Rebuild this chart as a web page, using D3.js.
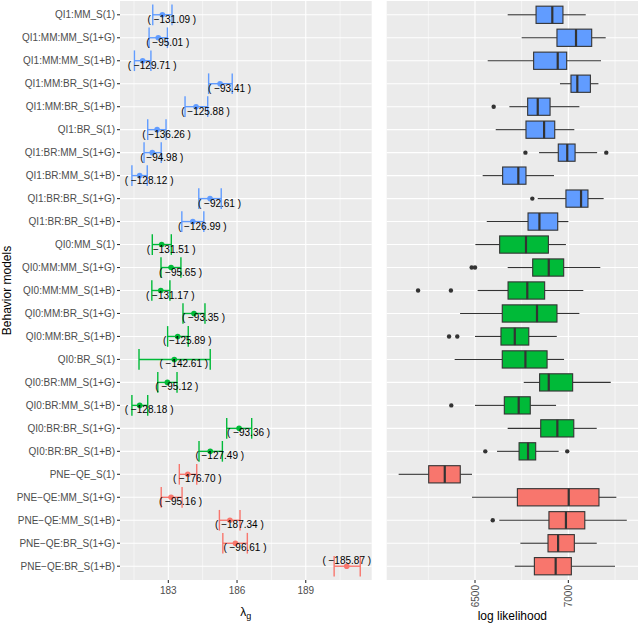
<!DOCTYPE html>
<html lang="en">
<head>
<meta charset="UTF-8">
<title>Behavior models</title>
<script src="https://d3js.org/d3.v7.min.js"></script>
<style>
  body, html { margin: 0; padding: 0; background: #fff; }
  svg text { font-family: "Liberation Sans", Arial, sans-serif; }
  .tick-label { fill: #4d4d4d; font-size: 10px; }
  .axis-title { fill: #000; font-size: 12px; }
  .val-label { fill: #000; font-size: 10px; }
</style>
</head>
<body>
<div id="chart"></div>
<script>
  // behavior models, top to bottom
  const models = [
    "QI1:MM_S(1)", "QI1:MM:MM_S(1+G)", "QI1:MM:MM_S(1+B)", "QI1:MM:BR_S(1+G)", "QI1:MM:BR_S(1+B)",
    "QI1:BR_S(1)", "QI1:BR:MM_S(1+G)", "QI1:BR:MM_S(1+B)", "QI1:BR:BR_S(1+G)", "QI1:BR:BR_S(1+B)",
    "QI0:MM_S(1)", "QI0:MM:MM_S(1+G)", "QI0:MM:MM_S(1+B)", "QI0:MM:BR_S(1+G)", "QI0:MM:BR_S(1+B)",
    "QI0:BR_S(1)", "QI0:BR:MM_S(1+G)", "QI0:BR:MM_S(1+B)", "QI0:BR:BR_S(1+G)", "QI0:BR:BR_S(1+B)",
    "PNE\u2212QE_S(1)", "PNE\u2212QE:MM_S(1+G)", "PNE\u2212QE:MM_S(1+B)", "PNE\u2212QE:BR_S(1+G)", "PNE\u2212QE:BR_S(1+B)"
  ];

  // lambda_g estimate and interval
  const lambdaEst = [182.74, 182.56, 181.88, 185.26, 184.21, 182.51, 182.30, 181.75, 184.82, 184.07,
                     182.71, 183.12, 182.67, 184.12, 183.41, 183.26, 182.96, 181.75, 186.09, 184.83,
                     183.85, 183.12, 185.69, 185.93, 190.79];
  const lambdaLo  = [182.32, 182.16, 181.52, 184.76, 183.73, 182.10, 181.94, 181.41, 184.33, 183.59,
                     182.30, 182.68, 182.28, 183.64, 182.97, 181.72, 182.54, 181.41, 185.55, 184.34,
                     183.48, 182.69, 185.23, 185.38, 190.24];
  const lambdaHi  = [183.16, 182.96, 182.24, 185.79, 184.72, 182.90, 182.69, 182.08, 185.31, 184.55,
                     183.13, 183.55, 183.07, 184.60, 183.87, 184.83, 183.38, 182.10, 186.64, 185.36,
                     184.24, 183.60, 186.13, 186.45, 191.38];
  // printed log likelihood of the fit
  const fitLL = [-131.09, -95.01, -129.71, -93.41, -125.88, -136.26, -94.98, -128.12, -92.61, -126.99,
                 -131.51, -95.65, -131.17, -93.35, -125.89, -142.61, -95.12, -128.18, -93.36, -127.49,
                 -176.70, -95.16, -187.34, -96.61, -185.87];

  // log likelihood boxplots
  const whiskLo = [6675, 6750, 6568, 6955, 6684, 6611, 6843, 6541, 6836, 6563,
                   6502, 6675, 6514, 6420, 6500, 6391, 6761, 6500, 6675, 6618,
                   6091, 6484, 6630, 6743, 6713];
  const q1      = [6827, 6939, 6814, 7014, 6782, 6773, 6946, 6648, 6987, 6784,
                   6632, 6809, 6677, 6646, 6639, 6646, 6846, 6657, 6852, 6736,
                   6252, 6727, 6896, 6891, 6818];
  const median  = [6914, 7041, 6943, 7048, 6836, 6870, 6994, 6732, 7068, 6845,
                   6773, 6895, 6780, 6832, 6713, 6770, 6895, 6734, 6941, 6784,
                   6338, 7002, 6987, 6945, 6932];
  const q3      = [6971, 7125, 6991, 7118, 6902, 6927, 7036, 6773, 7105, 6943,
                   6893, 6975, 6873, 6939, 6788, 6886, 7023, 6796, 7029, 6825,
                   6421, 7164, 7088, 7032, 7016];
  const whiskHi = [7093, 7200, 7175, 7161, 7059, 7032, 7154, 6923, 7189, 7000,
                   6987, 7171, 7080, 7059, 6938, 6977, 7227, 6934, 7152, 6948,
                   6484, 7257, 7313, 7152, 7250];
  const outliers = [[], [], [], [], [6600], [], [6770, 7203], [], [6807], [],
                    [], [6482, 6500], [6195, 6371], [], [6361, 6405], [], [], [6373], [], [6555, 6994],
                    [], [], [6595], [], []];

  const lambdaTicks = [183, 186, 189];
  const llTicks = [6500, 7000];

  const groupColor = { QI1: "#619CFF", QI0: "#00BA38", PNE: "#F8766D" };
  const groupOf = name => name.slice(0, 3);

  const W = 640, H = 624;
  const yTop = 1, yBottom = 580;
  const left1 = 120, right1 = 371.7, left2 = 386.7, right2 = 638;

  const svg = d3.select("#chart").append("svg")
    .attr("width", W).attr("height", H);

  const y = d3.scalePoint().domain(models).range([yTop, yBottom]).padding(0.6);
  const step = y.step();
  const xL = d3.scaleLinear().domain([180.89, 191.88]).range([left1, right1]);
  const xR = d3.scaleLinear().domain([6027, 7373]).range([left2, right2]);

  function panel(x, x0, x1, ticks, minor) {
    const g = svg.append("g");
    g.append("rect").attr("x", x0).attr("y", yTop)
      .attr("width", x1 - x0).attr("height", yBottom - yTop).attr("fill", "#EBEBEB");
    g.selectAll(".minor").data(minor).enter().append("line")
      .attr("x1", d => x(d)).attr("x2", d => x(d)).attr("y1", yTop).attr("y2", yBottom)
      .attr("stroke", "#fff").attr("stroke-width", 0.55);
    g.selectAll(".major").data(ticks).enter().append("line")
      .attr("x1", d => x(d)).attr("x2", d => x(d)).attr("y1", yTop).attr("y2", yBottom)
      .attr("stroke", "#fff").attr("stroke-width", 1.1);
    g.selectAll(".hgrid").data(models).enter().append("line")
      .attr("x1", x0).attr("x2", x1).attr("y1", d => y(d)).attr("y2", d => y(d))
      .attr("stroke", "#fff").attr("stroke-width", 1.1);
    // bottom tick marks
    g.selectAll(".btick").data(ticks).enter().append("line")
      .attr("x1", d => x(d)).attr("x2", d => x(d)).attr("y1", yBottom).attr("y2", yBottom + 3)
      .attr("stroke", "#333").attr("stroke-width", 1.1);
    return g;
  }

  panel(xL, left1, right1, lambdaTicks, [181.5, 184.5, 187.5, 190.5]);
  panel(xR, left2, right2, llTicks, [6250, 6750, 7250]);

  // y axis
  const yAxis = svg.append("g");
  yAxis.selectAll("line").data(models).enter().append("line")
    .attr("x1", left1 - 3).attr("x2", left1).attr("y1", d => y(d)).attr("y2", d => y(d))
    .attr("stroke", "#333").attr("stroke-width", 1.1);
  yAxis.selectAll("text").data(models).enter().append("text")
    .attr("class", "tick-label")
    .attr("x", left1 - 5).attr("y", d => y(d)).attr("dy", "0.35em")
    .attr("text-anchor", "end").text(d => d);

  // bottom tick labels
  svg.selectAll(".lt").data(lambdaTicks).enter().append("text")
    .attr("class", "tick-label")
    .attr("x", d => xL(d)).attr("y", yBottom + 13.5)
    .attr("text-anchor", "middle").text(d => d);
  svg.selectAll(".rt").data(llTicks).enter().append("text")
    .attr("class", "tick-label")
    .attr("transform", d => `translate(${xR(d)},${yBottom + 5}) rotate(-90)`)
    .attr("dy", "0.35em")
    .attr("text-anchor", "end").text(d => d);

  // axis titles
  const lt = svg.append("text").attr("class", "axis-title")
    .attr("x", (left1 + right1) / 2).attr("y", 616).attr("text-anchor", "middle");
  lt.append("tspan").text("\u03bb");
  lt.append("tspan").attr("dy", 3).attr("font-size", "9px").text("g");
  svg.append("text").attr("class", "axis-title")
    .attr("x", (left2 + right2) / 2).attr("y", 620).attr("text-anchor", "middle")
    .text("log likelihood");
  svg.append("text").attr("class", "axis-title")
    .attr("transform", `translate(11,${(yTop + yBottom) / 2}) rotate(-90)`)
    .attr("text-anchor", "middle").text("Behavior models");

  // error bars
  const rows = models.map((m, i) => ({
    m, i, col: groupColor[groupOf(m)],
    est: lambdaEst[i], lo: lambdaLo[i], hi: lambdaHi[i], ll: fitLL[i],
    w0: whiskLo[i], q1: q1[i], med: median[i], q3: q3[i], w1: whiskHi[i], out: outliers[i]
  }));

  const eb = svg.append("g").selectAll("g").data(rows).enter().append("g");
  const cap = step * 0.45;
  eb.append("line")
    .attr("x1", d => xL(d.lo)).attr("x2", d => xL(d.hi))
    .attr("y1", d => y(d.m)).attr("y2", d => y(d.m))
    .attr("stroke", d => d.col).attr("stroke-width", 1.4);
  eb.append("line")
    .attr("x1", d => xL(d.lo)).attr("x2", d => xL(d.lo))
    .attr("y1", d => y(d.m) - cap).attr("y2", d => y(d.m) + cap)
    .attr("stroke", d => d.col).attr("stroke-width", 1.4);
  eb.append("line")
    .attr("x1", d => xL(d.hi)).attr("x2", d => xL(d.hi))
    .attr("y1", d => y(d.m) - cap).attr("y2", d => y(d.m) + cap)
    .attr("stroke", d => d.col).attr("stroke-width", 1.4);
  eb.append("circle")
    .attr("cx", d => xL(d.est)).attr("cy", d => y(d.m)).attr("r", 2.8)
    .attr("fill", d => d.col);
  eb.append("text").attr("class", "val-label")
    .attr("text-anchor", "middle").attr("dy", "0.35em")
    .text(d => "( " + d.ll.toFixed(2).replace("-", "\u2212") + " )")
    .each(function(d) {
      const w = this.getComputedTextLength();
      let cx = xL(d.est) + 9.5, cy = y(d.m) + 4.5;
      if (cx + w / 2 > right1) { cx = xL(d.est); cy = y(d.m) - 6; }
      d3.select(this).attr("x", cx).attr("y", cy);
    });

  // boxplots
  const bh = step * 0.75;
  const bx = svg.append("g").selectAll("g").data(rows).enter().append("g");
  bx.append("line")
    .attr("x1", d => xR(d.w0)).attr("x2", d => xR(d.q1))
    .attr("y1", d => y(d.m)).attr("y2", d => y(d.m))
    .attr("stroke", "#333").attr("stroke-width", 1.1);
  bx.append("line")
    .attr("x1", d => xR(d.q3)).attr("x2", d => xR(d.w1))
    .attr("y1", d => y(d.m)).attr("y2", d => y(d.m))
    .attr("stroke", "#333").attr("stroke-width", 1.1);
  bx.append("rect")
    .attr("x", d => xR(d.q1)).attr("y", d => y(d.m) - bh / 2)
    .attr("width", d => xR(d.q3) - xR(d.q1)).attr("height", bh)
    .attr("fill", d => d.col).attr("stroke", "#333").attr("stroke-width", 1.1);
  bx.append("line")
    .attr("x1", d => xR(d.med)).attr("x2", d => xR(d.med))
    .attr("y1", d => y(d.m) - bh / 2).attr("y2", d => y(d.m) + bh / 2)
    .attr("stroke", "#333").attr("stroke-width", 2.2);
  bx.selectAll("circle").data(d => d.out.map(v => ({ v, m: d.m }))).enter().append("circle")
    .attr("cx", o => xR(o.v)).attr("cy", o => y(o.m)).attr("r", 2.2)
    .attr("fill", "#333");
</script>
</body>
</html>
